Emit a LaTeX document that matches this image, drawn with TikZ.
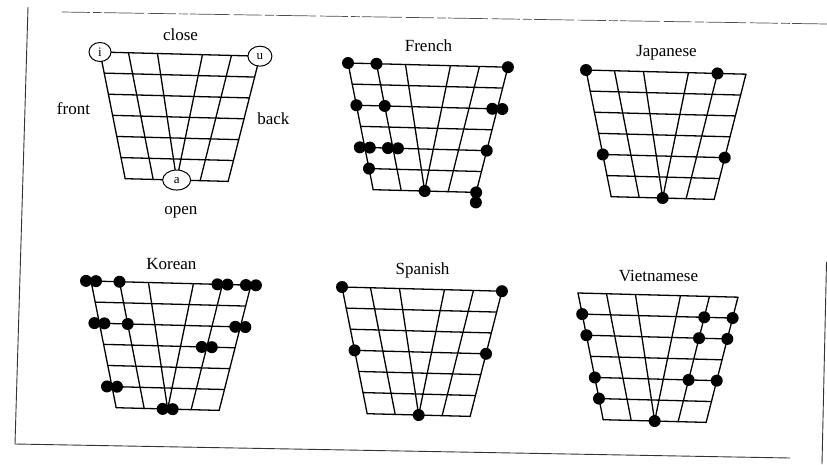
\documentclass[tikz,border=0pt]{standalone}
\usepackage{fontspec}
\setmainfont{Liberation Serif}
\usetikzlibrary{shapes.geometric}

\tikzset{
  gridline/.style={line width=1.3pt, black, line cap=round, line join=round},
  framel/.style={line width=0.9pt, black!80},
  frametop/.style={line width=0.7pt, black!70, dash pattern=on 28pt off 3pt on 9pt off 2pt on 40pt off 4pt},
  titlet/.style={font=\fontsize{17}{18}\selectfont, inner sep=0pt},
  vowel/.style={ellipse, draw, line width=1pt, fill=white, inner sep=0pt,
                font=\fontsize{13}{13}\selectfont},
}

% grid of vowel chart: coordinates #1-i-k (line i = 0..5, row k = 0..6)
\newcommand{\mkgrid}[1]{%
  \foreach \i/\tx/\bx in {0/0/28.5,1/28.5/56.5,2/57.5/80,3/102.5/80,4/131.5/103.5,5/160/131.5}{
    \foreach \k in {0,...,6}{
      \coordinate (#1-\i-\k) at ({\tx+(\bx-\tx)*\k/6},{21*\k});
    }
  }
  \foreach \i in {0,...,5}{\draw[gridline] (#1-\i-0) -- (#1-\i-6);}
  \foreach \k in {0,...,6}{\draw[gridline] (#1-0-\k) -- (#1-5-\k);}
}
\newcommand{\dotS}[1]{\fill (#1) circle (6pt);}
\newcommand{\dotD}[1]{\fill ([xshift=-5pt]#1) circle (6pt) ([xshift=5pt]#1) circle (6pt);}
\newcommand{\dotV}[1]{\fill (#1) circle (6pt) ([yshift=-10pt]#1) circle (6pt);}

\begin{document}
\begin{tikzpicture}[x=1pt, y=-1pt]
\useasboundingbox (0,0) rectangle (827,464);
\clip (0,0) rectangle (827,464);

% frame (scanned, slightly skewed)
\coordinate (ftl) at (28,7);
\coordinate (fbl) at (15,444);
\coordinate (fbr) at (790,458);
\coordinate (frb) at (822,464);
\coordinate (frt) at (826.5,262);
\coordinate (ttl) at (62,12);
\coordinate (ttr) at (827,24);
\draw[framel] (ftl) -- (fbl) -- (fbr);
\draw[framel] (frb) -- (frt);
\draw[frametop] (ttl) -- (ttr);

% ---- reference chart ----
\begin{scope}[shift={(100,52)}, rotate=-1.5]
  \mkgrid{A}
  \node[vowel, minimum width=22pt, minimum height=19pt] (vi) at (A-0-0) {i};
  \node[vowel, minimum width=24pt, minimum height=20pt] (vu) at (A-5-0) {u};
  \node[vowel, minimum width=28pt, minimum height=20pt] (va) at (A-2-6) {a};
  \node[titlet] (tclose) at (80,-19) {close};
  \node[titlet] (tfront) at (-25,57) {front};
  \node[titlet] (tback) at (175,62) {back};
  \node[titlet] (topen) at (85,158) {open};
\end{scope}

% ---- French ----
\begin{scope}[shift={(348,63)}, rotate=-1.5]
  \mkgrid{F}
  \node[titlet] (tfr) at (80,-19) {French};
  \dotS{F-0-0}\dotS{F-1-0}\dotS{F-5-0}
  \dotS{F-0-2}\dotS{F-1-2}\dotD{F-5-2}
  \dotD{F-0-4}\dotD{F-1-4}\dotS{F-5-4}
  \dotS{F-0-5}
  \dotS{F-2-6}\dotV{F-5-6}
\end{scope}

% ---- Japanese ----
\begin{scope}[shift={(586,70)}, rotate=-1.5]
  \mkgrid{J}
  \node[titlet] (tja) at (80,-19) {Japanese};
  \dotS{J-0-0}\dotS{J-4-0}
  \dotS{J-0-4}\dotS{J-5-4}
  \dotS{J-2-6}
\end{scope}

% ---- Korean ----
\begin{scope}[shift={(91,281)}, rotate=-1.5]
  \mkgrid{K}
  \node[titlet] (tko) at (80,-19) {Korean};
  \dotD{K-0-0}\dotS{K-1-0}\dotD{K-4-0}\dotD{K-5-0}
  \dotD{K-0-2}\dotS{K-1-2}\dotD{K-5-2}
  \dotD{K-4-3}
  \dotD{K-0-5}
  \dotD{K-2-6}
\end{scope}

% ---- Spanish ----
\begin{scope}[shift={(342,287)}, rotate=-1.5]
  \mkgrid{S}
  \node[titlet] (tsp) at (80,-19) {Spanish};
  \dotS{S-0-0}\dotS{S-5-0}
  \dotS{S-0-3}\dotS{S-5-3}
  \dotS{S-2-6}
\end{scope}

% ---- Vietnamese ----
\begin{scope}[shift={(578,293)}, rotate=-1.5]
  \mkgrid{V}
  \node[titlet] (tvi) at (80,-19) {Vietnamese};
  \dotS{V-0-1}\dotS{V-4-1}\dotS{V-5-1}
  \dotS{V-0-2}\dotS{V-4-2}\dotS{V-5-2}
  \dotS{V-0-4}\dotS{V-4-4}\dotS{V-5-4}
  \dotS{V-0-5}
  \dotS{V-2-6}
\end{scope}
\end{tikzpicture}
\end{document}
